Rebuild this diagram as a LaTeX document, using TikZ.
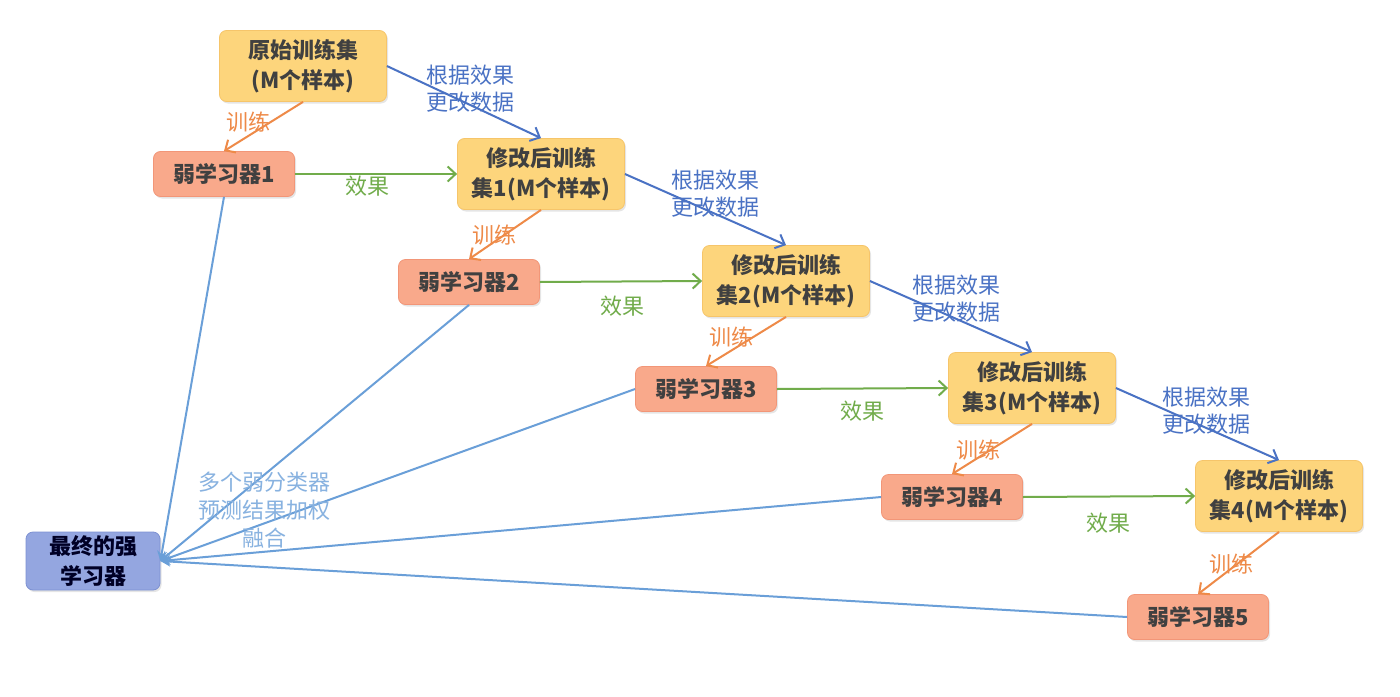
\documentclass[tikz,border=0pt]{standalone}
\usepackage{fontspec}
\setmainfont{Noto Sans CJK SC}
\usepackage{xcolor}
\usetikzlibrary{positioning,arrows.meta,shadows}

\definecolor{setyellow}{HTML}{FDD57C}
\definecolor{setedge}{HTML}{F6C56A}
\definecolor{weakred}{HTML}{F9A98B}
\definecolor{weakedge}{HTML}{F29678}
\definecolor{strongblue}{HTML}{94A6E0}
\definecolor{strongedge}{HTML}{7D91D2}
\definecolor{updblue}{HTML}{4A72C4}
\definecolor{effgreen}{HTML}{71AC4B}
\definecolor{trainorange}{HTML}{EE8A48}
\definecolor{fuseblue}{HTML}{6A9FD8}

\begin{document}
\begin{tikzpicture}[x=1pt, y=-1pt,
  box/.style={rounded corners=7pt, align=center, inner sep=0pt, line width=0.8pt,
    font=\fontsize{22}{30}\selectfont\bfseries,
    drop shadow={opacity=0.2, shadow xshift=1.5pt, shadow yshift=-2pt}},
  setbox/.style={box, draw=setedge, fill=setyellow, text=black!75,
    minimum width=167pt, minimum height=71pt},
  weakbox/.style={box, draw=weakedge, fill=weakred, text=black!75,
    minimum width=141pt, minimum height=45pt},
  strongbox/.style={box, draw=strongedge, fill=strongblue, text=black!85!blue,
    minimum width=134pt, minimum height=58pt},
  lbl/.style={align=center, inner sep=0pt, font=\fontsize{22}{27}\selectfont},
  update/.style={draw=updblue, line width=2pt, -{Straight Barb[length=8pt,width=15pt]}},
  train/.style={draw=trainorange, line width=2pt, -{Straight Barb[length=8pt,width=15pt]}},
  effect/.style={draw=effgreen, line width=2pt, -{Straight Barb[length=8pt,width=15pt]}},
  fuse/.style={draw=fuseblue, line width=2pt, -{Stealth[length=10pt,width=10pt]}}
]

\fill[white] (0,0) rectangle (1400,696);
\useasboundingbox (0,0) rectangle (1400,696);

% Training sets
\node[setbox] (s0) at (303,66) {原始训练集\\(M个样本)};
\node[setbox] (s1) at (541,174) {修改后训练\\集1(M个样本)};
\node[setbox] (s2) at (786,281) {修改后训练\\集2(M个样本)};
\node[setbox] (s3) at (1032,388) {修改后训练\\集3(M个样本)};
\node[setbox] (s4) at (1279,496) {修改后训练\\集4(M个样本)};

% Weak learners
\node[weakbox] (w1) at (224,174) {弱学习器1};
\node[weakbox] (w2) at (469,282) {弱学习器2};
\node[weakbox] (w3) at (706,389) {弱学习器3};
\node[weakbox] (w4) at (952,497) {弱学习器4};
\node[weakbox] (w5) at (1198,617) {弱学习器5};

% Strong learner
\node[strongbox] (strong) at (93,561) {最终的强\\学习器};

% Connections
\foreach \i [count=\j from 1] in {0,...,3}
    \draw[update] (s\i.east) -- (s\j.north);
\foreach \i [count=\j from 1] in {0,...,4}
    \draw[train] (s\i.south) -- (w\j.north);
\foreach \i in {1,...,4}
    \draw[effect] (w\i.east) -- (s\i.west);
\foreach \a in {w1.south,w2.south,w3.west,w4.west,w5.west}
    \draw[fuse] (\a) -- (strong.east);

% Labels
\foreach \x/\y [count=\i] in {470/89,715/194,956/299,1206/411}
    \node[lbl, text=updblue] (u\i) at (\x,\y) {根据效果\\更改数据};
\foreach \x/\y [count=\i] in {367/186,622/306,862/411,1108/523}
    \node[lbl, text=effgreen] (e\i) at (\x,\y) {效果};
\foreach \x/\y [count=\i] in {248/122,494/235,731/337,978/450,1231/564}
    \node[lbl, text=trainorange] (t\i) at (\x,\y) {训练};
\node[lbl, text=fuseblue!80, font=\fontsize{22}{28}\selectfont] (fuselbl) at (264,510) {多个弱分类器\\预测结果加权\\融合};

\end{tikzpicture}
\end{document}
